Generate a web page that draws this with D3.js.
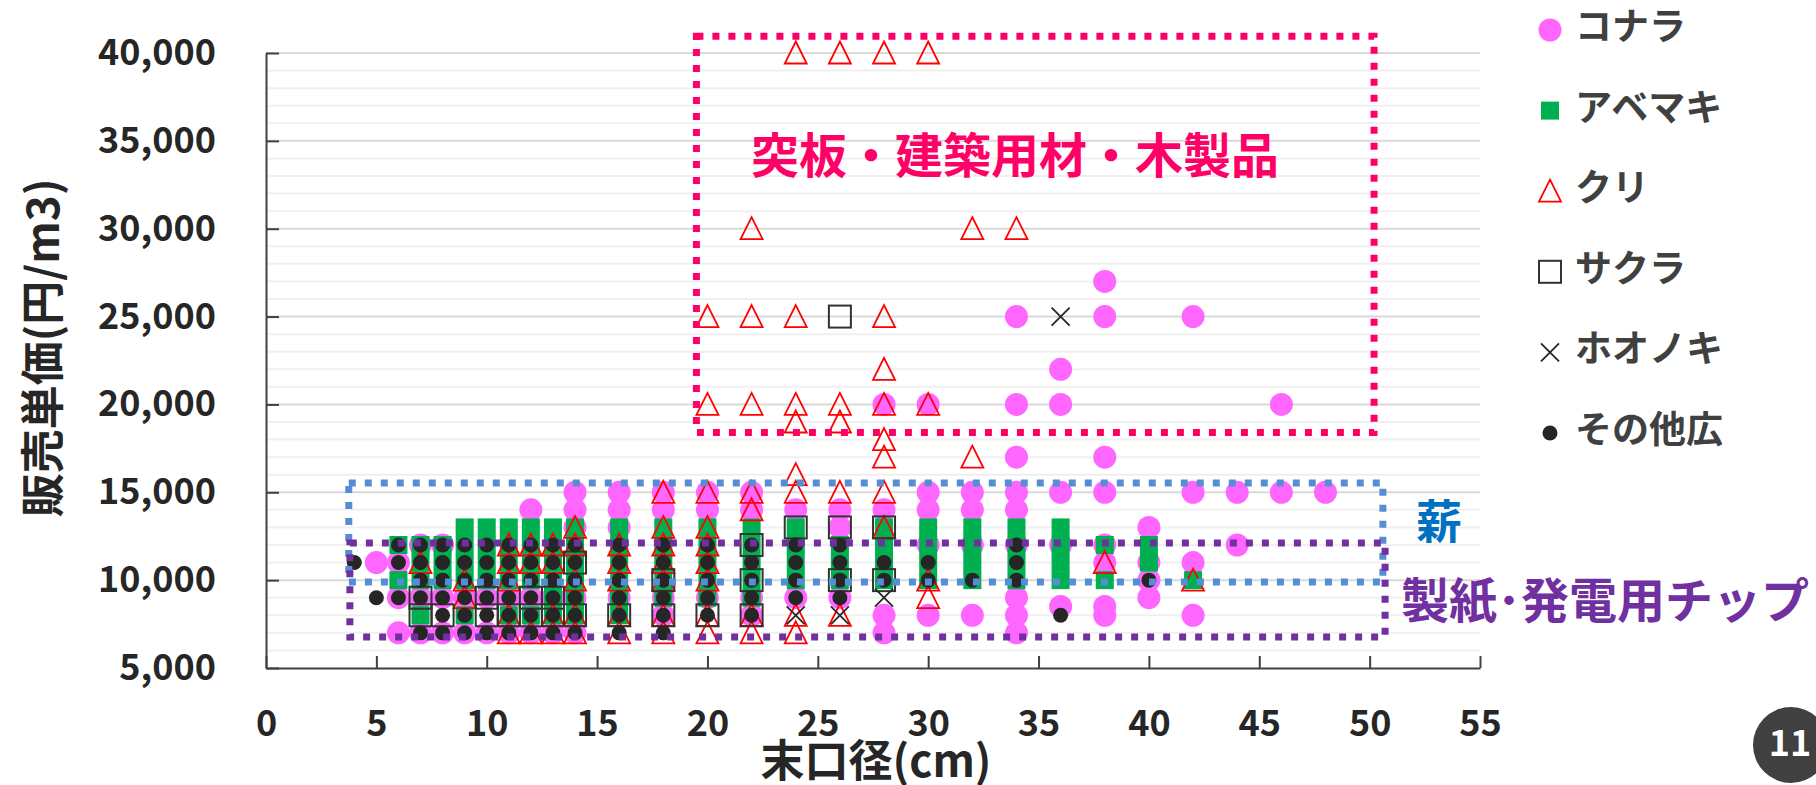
<!DOCTYPE html>
<html>
<head>
<meta charset="utf-8">
<script src="https://cdn.jsdelivr.net/npm/d3@7"></script>
<style>
  body { margin: 0; background: #fff; }
  text { font-family: "Noto Sans CJK JP", "Noto Sans", sans-serif; font-weight: 700; }
</style>
</head>
<body>
<div id="chart"></div>
<script>
// ---- data: [diameter (cm), price (yen/m3)] ----
var konara = [
  [5,11000],[6,11000],[6,9000],[6,7000],
  [7,12000],[7,9000],[7,7000],
  [8,12000],[8,9000],[8,7000],
  [9,9000],[9,7000],[10,9000],[10,7000],[11,9000],[11,7000],
  [12,14000],[12,9000],[12,7000],[13,9000],[13,7000],
  [14,15000],[14,14000],[14,13000],[14,9000],[14,7000],
  [16,15000],[16,14000],[16,13000],[16,9000],
  [18,15000],[18,14000],[18,9000],[18,8000],
  [20,15000],[20,14000],[20,9000],
  [22,15000],[22,14000],[22,9000],[22,8000],
  [24,14000],[24,9000],
  [26,14000],[26,13000],[26,9000],
  [28,20000],[28,14000],[28,8000],[28,7000],
  [30,20000],[30,15000],[30,14000],[30,12000],[30,8000],
  [32,15000],[32,14000],[32,12000],[32,8000],
  [34,25000],[34,20000],[34,17000],[34,15000],[34,14000],[34,12000],[34,9000],[34,8000],[34,7000],
  [36,22000],[36,20000],[36,15000],[36,12000],[36,8500],
  [38,27000],[38,25000],[38,17000],[38,15000],[38,12000],[38,11000],[38,8500],[38,8000],
  [40,13000],[40,11000],[40,10000],[40,9000],
  [42,25000],[42,15000],[42,11000],[42,8000],
  [44,15000],[44,12000],
  [46,20000],[46,15000],
  [48,15000]
];

var abemaki = [
  [6,12000],[6,10000],
  [7,12000],[7,11000],[7,10000],[7,8000],
  [8,12000],[8,11000],[8,10000],
  [9,13000],[9,12000],[9,11000],[9,10000],[9,8000],
  [10,13000],[10,12000],[10,11000],[10,10000],
  [11,13000],[11,12000],[11,11000],[11,10000],[11,8000],
  [12,13000],[12,12000],[12,11000],[12,10000],[12,8000],
  [13,13000],[13,12000],[13,11000],[13,10000],[13,9000],[13,8000],
  [14,13000],[14,12000],[14,11000],[14,10000],[14,9000],[14,8000],
  [16,13000],[16,12000],[16,11000],[16,10000],[16,9000],[16,8000],
  [18,13000],[18,12000],[18,11000],[18,10000],[18,9000],
  [20,13000],[20,12000],[20,11000],[20,10000],[20,9000],
  [22,13000],[22,12000],[22,11000],[22,10000],[22,9000],
  [24,13000],[24,12000],[24,11000],[24,10000],
  [26,12000],[26,11000],[26,10000],
  [28,13000],[28,12000],[28,11000],[28,10000],
  [30,13000],[30,12000],[30,11000],[30,10000],
  [32,13000],[32,12000],[32,11000],[32,10000],
  [34,13000],[34,12000],[34,11000],[34,10000],
  [36,13000],[36,12000],[36,11000],[36,10000],
  [38,12000],[38,10000],
  [40,12000],[40,11000],
  [42,10000]
];

var kuri = [
  [24,40000],[26,40000],[28,40000],[30,40000],
  [22,30000],[32,30000],[34,30000],
  [20,25000],[22,25000],[24,25000],[28,25000],
  [28,22000],
  [20,20000],[22,20000],[24,20000],[26,20000],[28,20000],[30,20000],
  [24,19000],[26,19000],
  [28,18000],
  [28,17000],[32,17000],
  [24,16000],
  [18,15000],[20,15000],[22,15000],[24,15000],[26,15000],[28,15000],
  [22,14000],
  [14,13000],[18,13000],[20,13000],[28,13000],
  [11,12000],[12,12000],[13,12000],[14,12000],[16,12000],[18,12000],[20,12000],
  [7,11000],[11,11000],[12,11000],[13,11000],[16,11000],[18,11000],[20,11000],[38,11000],
  [9,10000],[11,10000],[14,10000],[16,10000],[18,10000],[20,10000],[30,10000],[42,10000],
  [9,9000],[30,9000],
  [11,8000],[13,8000],[14,8000],[16,8000],[18,8000],[20,8000],[22,8000],[24,8000],[26,8000],
  [11,7000],[12,7000],[13,7000],[14,7000],[16,7000],[18,7000],[20,7000],[22,7000],[24,7000]
];

var sakura = [
  [26,25000],
  [24,13000],[26,13000],[28,13000],
  [22,12000],
  [14,11000],
  [18,10000],[22,10000],[26,10000],[28,10000],
  [7,9000],[10,9000],[12,9000],[13,9000],
  [7,8000],[8,8000],[10,8000],[11,8000],[12,8000],[13,8000],[14,8000],
  [16,8000],[18,8000],[20,8000],[22,8000]
];

var hoonoki = [[36,25000],[28,9000],[24,8000],[26,8000]];

var sonota = [
  [4,11000],[5,9000],
  [6,12000],[6,11000],[6,9000],
  [7,12000],[7,11000],[7,10000],[7,9000],[7,7000],
  [8,12000],[8,11000],[8,10000],[8,9000],[8,8000],[8,7000],
  [9,12000],[9,11000],[9,10000],[9,9000],[9,8000],[9,7000],
  [10,12000],[10,11000],[10,10000],[10,9000],[10,8000],[10,7000],
  [11,12000],[11,11000],[11,10000],[11,9000],[11,8000],[11,7000],
  [12,12000],[12,11000],[12,10000],[12,9000],[12,8000],[12,7000],
  [13,12000],[13,11000],[13,10000],[13,9000],[13,8000],[13,7000],
  [14,12000],[14,11000],[14,10000],[14,9000],[14,8000],[14,7000],
  [16,12000],[16,11000],[16,10000],[16,9000],[16,8000],[16,7000],
  [18,12000],[18,11000],[18,10000],[18,9000],[18,8000],[18,7000],
  [20,12000],[20,11000],[20,10000],[20,9000],[20,8000],
  [22,12000],[22,11000],[22,10000],[22,9000],[22,8000],
  [24,12000],[24,11000],[24,10000],[24,9000],
  [26,12000],[26,11000],[26,10000],[26,9000],
  [28,11000],[28,10000],
  [30,11000],[30,10000],
  [32,10000],
  [34,12000],[34,11000],[34,10000],
  [36,8000],
  [40,10000]
];

var seriesNames = ["コナラ", "アベマキ", "クリ", "サクラ", "ホオノキ", "その他広"];
var xTicks = [0, 5, 10, 15, 20, 25, 30, 35, 40, 45, 50, 55];
var yTicks = [5000, 10000, 15000, 20000, 25000, 30000, 35000, 40000];

// annotation boxes in data units
var pinkBox   = {x: [19.5, 50.2], y: [18400, 40950]};
var blueBox   = {x: [3.75, 50.6], y: [9900, 15530]};
var purpleBox = {x: [3.8, 50.7],  y: [6770, 12110]};

// ---- layout ----
var width = 1816, height = 785;
var plot = {left: 266, right: 1480, top: 53, bottom: 668};

var svg = d3.select("#chart")
  .append("svg")
    .attr("width", width)
    .attr("height", height);

svg.append("rect").attr("width", width).attr("height", height).attr("fill", "#fff");

var x = d3.scaleLinear().domain([0, 55]).range([plot.left, plot.right]);
var y = d3.scaleLinear().domain([5000, 40000]).range([plot.bottom, plot.top]);

// gridlines
var minor = d3.range(6000, 40000, 1000).filter(function(d) { return d % 5000 !== 0; });
svg.append("g").selectAll("line")
  .data(minor).enter().append("line")
    .attr("x1", plot.left).attr("x2", plot.right)
    .attr("y1", function(d) { return y(d); }).attr("y2", function(d) { return y(d); })
    .attr("stroke", "#f0f0f0").attr("stroke-width", 2);
svg.append("g").selectAll("line")
  .data(yTicks.slice(1)).enter().append("line")
    .attr("x1", plot.left).attr("x2", plot.right)
    .attr("y1", function(d) { return y(d); }).attr("y2", function(d) { return y(d); })
    .attr("stroke", "#d9d9d9").attr("stroke-width", 2);

// axes
var yAxis = svg.append("g")
    .attr("transform", "translate(" + plot.left + ",0)")
    .call(d3.axisLeft(y).tickValues(yTicks).tickSize(-13).tickSizeOuter(0)
      .tickPadding(50).tickFormat(d3.format(",")));
var xAxis = svg.append("g")
    .attr("transform", "translate(0," + plot.bottom + ")")
    .call(d3.axisBottom(x).tickValues(xTicks).tickSize(-12).tickSizeOuter(0)
      .tickPadding(42));

[yAxis, xAxis].forEach(function(a) {
  a.select(".domain").attr("stroke", "#404040").attr("stroke-width", 2);
  a.selectAll(".tick line").attr("stroke", "#404040").attr("stroke-width", 2);
  a.selectAll(".tick text")
    .attr("fill", "#262626")
    .style("font-size", "36px")
    .style("font-family", '"Noto Sans CJK JP", sans-serif')
    .style("font-weight", 700);
});

// markers
var markers = {
  konara: function(g) {
    g.append("circle").attr("r", 11.5).attr("fill", "#ff66ff");
  },
  abemaki: function(g) {
    g.append("rect").attr("x", -9).attr("y", -9).attr("width", 18).attr("height", 18)
      .attr("fill", "#00b050");
  },
  kuri: function(g) {
    g.append("path").attr("d", "M0,-11.5L11,10.5L-11,10.5Z")
      .attr("fill", "none").attr("stroke", "#ff0000").attr("stroke-width", 1.8);
  },
  sakura: function(g) {
    g.append("rect").attr("x", -11).attr("y", -11).attr("width", 22).attr("height", 22)
      .attr("fill", "none").attr("stroke", "#333").attr("stroke-width", 2);
  },
  hoonoki: function(g) {
    g.append("path").attr("d", "M-9,-9L9,9M9,-9L-9,9")
      .attr("fill", "none").attr("stroke", "#262626").attr("stroke-width", 1.8);
  },
  sonota: function(g) {
    g.append("circle").attr("r", 7.5).attr("fill", "#262626");
  }
};

var series = [
  {key: "konara", data: konara},
  {key: "abemaki", data: abemaki},
  {key: "kuri", data: kuri},
  {key: "sakura", data: sakura},
  {key: "hoonoki", data: hoonoki},
  {key: "sonota", data: sonota}
];

series.forEach(function(s) {
  svg.append("g").attr("class", s.key)
    .selectAll("g")
    .data(s.data)
    .enter()
    .append("g")
      .attr("transform", function(d) { return "translate(" + x(d[0]) + "," + y(d[1]) + ")"; })
      .each(function() { markers[s.key](d3.select(this)); });
});

// dotted boxes
function box(b, color) {
  svg.append("rect")
    .attr("x", x(b.x[0])).attr("y", y(b.y[1]))
    .attr("width", x(b.x[1]) - x(b.x[0]))
    .attr("height", y(b.y[0]) - y(b.y[1]))
    .attr("fill", "none")
    .attr("stroke", color)
    .attr("stroke-width", 7)
    .attr("stroke-dasharray", "7 9");
}
box(pinkBox, "#ff0066");
box(blueBox, "#558ed5");
box(purpleBox, "#7030a0");

// annotation labels
svg.append("text").attr("x", 1015).attr("y", 152)
  .attr("text-anchor", "middle").attr("dominant-baseline", "central")
  .attr("fill", "#ff0066").style("font-size", "48px")
  .text("突板・建築用材・木製品");
svg.append("text").attr("x", 1439).attr("y", 518)
  .attr("text-anchor", "middle").attr("dominant-baseline", "central")
  .attr("fill", "#0070c0").style("font-size", "46px")
  .text("薪");
svg.append("text").attr("x", 1401).attr("y", 597)
  .attr("dominant-baseline", "central")
  .attr("fill", "#7030a0").style("font-size", "48px")
  .text("製紙･発電用チップ");

// axis titles
svg.append("text")
  .attr("transform", "translate(40,348) rotate(-90)")
  .attr("text-anchor", "middle").attr("dominant-baseline", "central")
  .attr("fill", "#262626").style("font-size", "44px")
  .text("販売単価(円/m3)");
svg.append("text").attr("x", 876).attr("y", 758)
  .attr("text-anchor", "middle").attr("dominant-baseline", "central")
  .attr("fill", "#262626").style("font-size", "44px")
  .text("末口径(cm)");

// legend
var legend = svg.append("g").selectAll("g")
  .data(series)
  .enter()
  .append("g")
    .attr("transform", function(d, i) { return "translate(1550," + (30 + i * 80.6) + ")"; });
legend.each(function(d) {
  markers[d.key](d3.select(this));
});
legend.append("text")
  .attr("x", 25).attr("y", -6)
  .attr("dominant-baseline", "central")
  .attr("fill", "#404040").style("font-size", "37px")
  .text(function(d, i) { return seriesNames[i]; });

// page badge
svg.append("circle").attr("cx", 1791).attr("cy", 745).attr("r", 38).attr("fill", "#404040");
svg.append("text").attr("x", 1790).attr("y", 740)
  .attr("text-anchor", "middle").attr("dominant-baseline", "central")
  .attr("fill", "#fff").style("font-size", "36px")
  .text("11");
</script>
</body>
</html>
